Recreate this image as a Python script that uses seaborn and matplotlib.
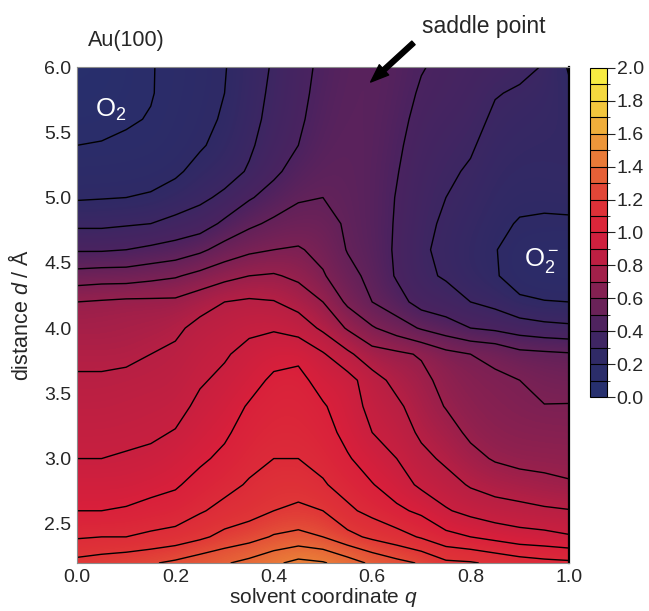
import numpy as np
import matplotlib
matplotlib.use("Agg")
import matplotlib.pyplot as plt
import seaborn as sns
from matplotlib.colors import Normalize, BoundaryNorm
from matplotlib.cm import ScalarMappable

# free energy surface (eV) read off the Au(100) contour plot
# rows follow d_values (top of the plot first), one list per q column
q_values = [0.00, 0.05, 0.10, 0.15, 0.20, 0.25, 0.30, 0.35, 0.40, 0.45, 0.50,
            0.55, 0.60, 0.65, 0.70, 0.75, 0.80, 0.85, 0.90, 0.95, 1.00]
d_values = [6.0, 5.8, 5.6, 5.4, 5.2, 5.0, 4.8, 4.6, 4.4, 4.2,
            4.0, 3.8, 3.6, 3.4, 3.2, 3.0, 2.8, 2.6, 2.4, 2.2]

g_q000 = [0.03, 0.045, 0.07, 0.10, 0.15, 0.19, 0.28, 0.39, 0.54, 0.70,
          0.74, 0.78, 0.81, 0.84, 0.87, 0.90, 0.95, 1.00, 1.09, 1.23]
g_q005 = [0.04, 0.05, 0.075, 0.105, 0.15, 0.195, 0.28, 0.39, 0.55, 0.71,
          0.74, 0.78, 0.81, 0.84, 0.87, 0.90, 0.95, 1.00, 1.10, 1.25]
g_q010 = [0.07, 0.075, 0.09, 0.115, 0.155, 0.20, 0.29, 0.40, 0.55, 0.72,
          0.75, 0.78, 0.82, 0.85, 0.875, 0.91, 0.95, 1.01, 1.10, 1.27]
g_q015 = [0.095, 0.095, 0.105, 0.125, 0.165, 0.21, 0.30, 0.42, 0.57, 0.72,
          0.76, 0.80, 0.83, 0.86, 0.885, 0.92, 0.97, 1.03, 1.12, 1.29]
g_q020 = [0.125, 0.13, 0.14, 0.155, 0.185, 0.24, 0.33, 0.44, 0.59, 0.72,
          0.78, 0.82, 0.84, 0.87, 0.905, 0.95, 0.99, 1.04, 1.14, 1.32]
g_q025 = [0.16, 0.165, 0.175, 0.19, 0.23, 0.28, 0.35, 0.48, 0.63, 0.76,
          0.83, 0.86, 0.89, 0.92, 0.95, 0.985, 1.03, 1.09, 1.18, 1.36]
g_q030 = [0.195, 0.20, 0.21, 0.23, 0.26, 0.32, 0.42, 0.54, 0.67, 0.80,
          0.85, 0.89, 0.92, 0.95, 0.985, 1.02, 1.07, 1.13, 1.23, 1.39]
g_q035 = [0.255, 0.26, 0.27, 0.285, 0.31, 0.39, 0.48, 0.58, 0.70, 0.815,
          0.88, 0.93, 0.96, 1.01, 1.04, 1.07, 1.11, 1.16, 1.26, 1.43]
g_q040 = [0.31, 0.32, 0.33, 0.35, 0.38, 0.44, 0.52, 0.60, 0.71, 0.805,
          0.89, 0.96, 1.02, 1.045, 1.07, 1.10, 1.15, 1.20, 1.31, 1.48]
g_q045 = [0.37, 0.375, 0.385, 0.40, 0.44, 0.49, 0.54, 0.61, 0.68, 0.76,
          0.86, 0.975, 1.03, 1.05, 1.07, 1.10, 1.16, 1.22, 1.33, 1.53]
g_q050 = [0.42, 0.43, 0.44, 0.455, 0.475, 0.50, 0.54, 0.57, 0.61, 0.70,
          0.78, 0.91, 0.96, 1.01, 1.04, 1.07, 1.11, 1.20, 1.30, 1.51]
g_q055 = [0.455, 0.46, 0.465, 0.47, 0.475, 0.48, 0.485, 0.495, 0.53, 0.58,
          0.69, 0.82, 0.94, 0.95, 0.97, 1.01, 1.06, 1.12, 1.23, 1.45]
g_q060 = [0.465, 0.465, 0.46, 0.46, 0.455, 0.455, 0.455, 0.46, 0.475, 0.50,
          0.61, 0.74, 0.84, 0.87, 0.90, 0.95, 1.005, 1.07, 1.18, 1.38]
g_q065 = [0.44, 0.435, 0.425, 0.415, 0.405, 0.395, 0.39, 0.385, 0.39, 0.44,
          0.55, 0.72, 0.77, 0.82, 0.86, 0.90, 0.95, 1.02, 1.14, 1.33]
g_q070 = [0.405, 0.39, 0.375, 0.36, 0.345, 0.335, 0.325, 0.315, 0.32, 0.36,
          0.49, 0.69, 0.73, 0.75, 0.78, 0.83, 0.88, 0.98, 1.09, 1.29]
g_q075 = [0.38, 0.37, 0.35, 0.33, 0.315, 0.30, 0.285, 0.275, 0.29, 0.34,
          0.445, 0.63, 0.665, 0.695, 0.74, 0.78, 0.84, 0.91, 1.03, 1.22]
g_q080 = [0.36, 0.345, 0.33, 0.31, 0.29, 0.27, 0.25, 0.235, 0.24, 0.30,
          0.40, 0.60, 0.63, 0.65, 0.68, 0.73, 0.79, 0.87, 1.00, 1.21]
g_q085 = [0.34, 0.305, 0.285, 0.265, 0.245, 0.23, 0.215, 0.205, 0.21, 0.27,
          0.38, 0.58, 0.615, 0.63, 0.65, 0.69, 0.765, 0.84, 0.97, 1.18]
g_q090 = [0.32, 0.29, 0.265, 0.245, 0.23, 0.215, 0.195, 0.15, 0.15, 0.22,
          0.35, 0.53, 0.60, 0.615, 0.64, 0.67, 0.745, 0.83, 0.94, 1.15]
g_q095 = [0.295, 0.27, 0.25, 0.24, 0.23, 0.215, 0.19, 0.135, 0.13, 0.205,
          0.33, 0.52, 0.57, 0.603, 0.635, 0.67, 0.725, 0.815, 0.93, 1.13]
g_q100 = [0.19, 0.22, 0.235, 0.24, 0.235, 0.22, 0.19, 0.13, 0.12, 0.20,
          0.32, 0.51, 0.56, 0.605, 0.63, 0.665, 0.71, 0.805, 0.91, 1.12]

energy_columns = [g_q000, g_q005, g_q010, g_q015, g_q020, g_q025, g_q030,
                  g_q035, g_q040, g_q045, g_q050, g_q055, g_q060, g_q065,
                  g_q070, g_q075, g_q080, g_q085, g_q090, g_q095, g_q100]

contour_levels = [0.1, 0.2, 0.3, 0.4, 0.5, 0.6, 0.7, 0.8, 0.9, 1.0,
                  1.1, 1.2, 1.3, 1.4, 1.5, 1.6, 1.7, 1.8, 1.9]
x_ticks = [0.0, 0.2, 0.4, 0.6, 0.8, 1.0]
y_ticks = [2.5, 3.0, 3.5, 4.0, 4.5, 5.0, 5.5, 6.0]
cbar_ticks = [0.0, 0.2, 0.4, 0.6, 0.8, 1.0, 1.2, 1.4, 1.6, 1.8, 2.0]

# colours from 0.0 to 2.0 eV, evenly spaced
cbar_colors = ["#27306e", "#2f2a66", "#4b2360", "#7c2154", "#b71f44",
               "#d9203b", "#e03637", "#e76937", "#ee9c3a", "#f3c93d", "#f8ec42"]


sns.set_style("white")
plt.rcParams["font.family"] = ["Liberation Sans", "DejaVu Sans"]
plt.rcParams["mathtext.fontset"] = "custom"
plt.rcParams["mathtext.rm"] = "Liberation Sans"
plt.rcParams["mathtext.it"] = "Liberation Sans:italic"
plt.rcParams["mathtext.bf"] = "Liberation Sans:bold"

energy = np.column_stack(energy_columns)
fes_cmap = sns.blend_palette(cbar_colors, as_cmap=True)

fig = plt.figure(figsize=(6.49, 6.11), dpi=100)
ax = fig.add_axes([0.1186, 0.0786, 0.758, 0.8117])

dq = q_values[1] - q_values[0]
dd = d_values[0] - d_values[1]
extent = [q_values[0] - dq / 2, q_values[-1] + dq / 2,
          d_values[-1] - dd / 2, d_values[0] + dd / 2]
ax.imshow(energy, cmap=fes_cmap, norm=Normalize(0, 2), origin="upper",
          extent=extent, interpolation="bicubic", aspect="auto")
ax.contour(q_values, d_values, energy, levels=contour_levels,
           colors="black", linewidths=1.0)

ax.set_xlim(0, 1)
ax.set_ylim(2.2, 6.0)
ax.set_xticks(x_ticks)
ax.set_xticklabels([f"{t:.1f}" for t in x_ticks])
ax.set_yticks(y_ticks)
ax.set_yticklabels([f"{t:.1f}" for t in y_ticks])
ax.tick_params(length=0, labelsize=14)
ax.tick_params(axis="x", pad=4)
ax.tick_params(axis="y", pad=4)
ax.set_xlabel(r"solvent coordinate $q$", fontsize=15, labelpad=0)
ax.set_ylabel(r"distance $d$ / Å", fontsize=15.5, labelpad=8)

for side in ["left", "top", "bottom"]:
    ax.spines[side].set_color("0.55")
    ax.spines[side].set_linewidth(0.8)
ax.spines["right"].set_color("black")
ax.spines["right"].set_linewidth(1.6)

# labels
ax.text(0.022, 1.054, "Au(100)", transform=ax.transAxes, fontsize=15.5,
        ha="left", va="center")
ax.text(0.827, 1.081, "saddle point", transform=ax.transAxes, fontsize=16.5,
        ha="center", va="center")
ax.annotate("", xy=(0.597, 5.885), xytext=(0.684, 6.185),
            arrowprops=dict(facecolor="black", edgecolor="black", width=3.5,
                            headwidth=10, headlength=13, shrink=0),
            annotation_clip=False)
ax.text(0.037, 5.615, r"O$_2$", color="white", fontsize=18.5,
        ha="left", va="baseline")
ax.text(0.908, 4.477, r"O$_2^-$", color="white", fontsize=18.5,
        ha="left", va="baseline")

# stepped colour bar
cax = fig.add_axes([0.909, 0.350, 0.026, 0.539])
bar_bounds = np.linspace(0, 2, 21)
sm = ScalarMappable(norm=BoundaryNorm(bar_bounds, fes_cmap.N), cmap=fes_cmap)
cbar = fig.colorbar(sm, cax=cax, ticks=cbar_ticks, drawedges=True)
cbar.dividers.set_color("black")
cbar.dividers.set_linewidth(0.8)
cbar.outline.set_linewidth(0.8)
cbar.outline.set_edgecolor("black")
cbar.ax.set_yticklabels([f"{t:.1f}" for t in cbar_ticks])
cbar.ax.tick_params(length=6, width=0.8, labelsize=14, direction="out", pad=1)

fig.savefig("out.png", dpi=100)
